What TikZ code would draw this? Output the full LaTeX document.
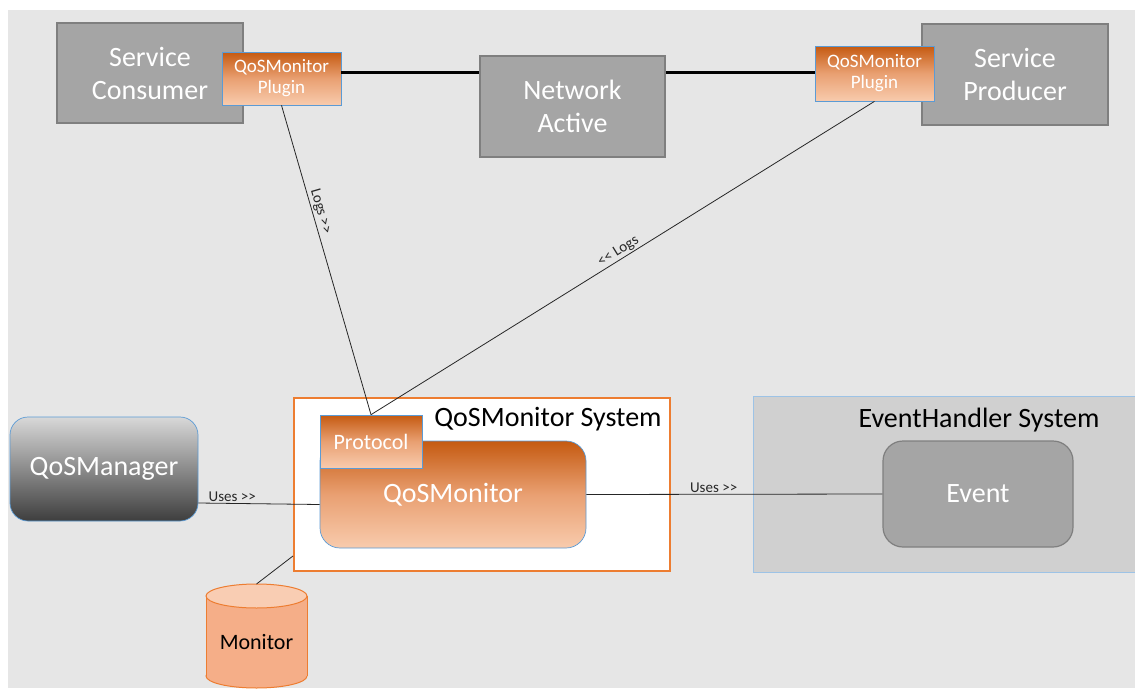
\documentclass[tikz,border=0pt]{standalone}
\usepackage{fontspec}
% plain ">>" and "<<" must stay as two characters, not guillemets
\setmainfont{Carlito}[Ligatures=TeXOff]
\usetikzlibrary{calc}

\definecolor{pagebg}{HTML}{E6E6E6}
\definecolor{boxgray}{HTML}{A5A5A5}
\definecolor{boxedge}{HTML}{7F7F7F}
\definecolor{orDark}{HTML}{C55A11}
\definecolor{orLight}{HTML}{F8CBAD}
\definecolor{orMid}{HTML}{E9A072}
\definecolor{orEdge}{HTML}{ED7D31}
\definecolor{edgeblue}{HTML}{5B9BD5}
\definecolor{paleblue}{HTML}{9DC3E6}
\definecolor{sysgray}{HTML}{D0D0D0}
\definecolor{cylbody}{HTML}{F5AE88}
\definecolor{cyltop}{HTML}{F9CDB3}
\definecolor{mgrTop}{HTML}{D8D8D8}
\definecolor{mgrBot}{HTML}{3E3E3E}

\begin{document}
\begin{tikzpicture}[x=1pt,y=-1pt,
  bigtext/.style={font=\fontsize{28}{33}\selectfont},
  graybox/.style={draw=boxedge, line width=1.8pt, fill=boxgray, text=white,
    bigtext, align=center, inner sep=0pt},
  pluginbox/.style={draw=edgeblue, line width=0.7pt, top color=orDark,
    bottom color=orLight, middle color=orMid, text=white,
    font=\fontsize{19}{21}\selectfont, align=center, inner sep=0pt},
  orangebox/.style={draw=edgeblue, line width=0.7pt, top color=orDark,
    bottom color=orLight, middle color=orMid, text=white, inner sep=0pt},
  netlink/.style={line width=3pt, black},
  conn/.style={line width=0.8pt, black!85},
  lbl/.style={font=\fontsize{15}{17}\selectfont, text=black!85, inner sep=1.5pt},
]
\clip (0,0) rectangle (1135,688);
\fill[white] (0,0) rectangle (1135,688);
\fill[pagebg] (8,10) rectangle (1135,688);

% --- top row: consumer, network, producer with their plugins
\node[graybox, minimum width=186, minimum height=100] (cons) at (150,73) {Service\\Consumer};
\node[pluginbox, minimum width=119, minimum height=53] (plugL) at (281.5,78.5) {QoSMonitor\\Plugin};
\node[graybox, minimum width=185, minimum height=101] (net) at (572.5,106.5) {Network\\Active};
\node[graybox, minimum width=186, minimum height=101] (prod) at (1015,74.5) {Service\\Producer};
\node[pluginbox, minimum width=119, minimum height=55] (plugR) at (874.5,73.5) {QoSMonitor\\Plugin};

\draw[netlink] (plugL.east |- 0,72) -- (net.west |- 0,72);
\draw[netlink] (net.east |- 0,72) -- (plugR.west |- 0,72);

% --- QoSMonitor system
\node[draw=orEdge, line width=1.8pt, fill=white, minimum width=376, minimum height=173,
  inner sep=0pt] (sys) at (482,484.5) {};
\node[bigtext, text=black] (systitle) at (548,419) {QoSMonitor System};
\node[orangebox, rounded corners=20pt, minimum width=266, minimum height=107,
  bigtext] (qmon) at (453,494.5) {QoSMonitor};
\node[orangebox, minimum width=102, minimum height=53,
  font=\fontsize{22}{24}\selectfont] (proto) at (371,441.5) {Protocol};

% --- QoSManager
\node[draw=edgeblue, line width=0.7pt, rounded corners=18pt, top color=mgrTop,
  bottom color=mgrBot, text=white, bigtext, inner sep=0pt,
  minimum width=188, minimum height=104] (mgr) at (104,469) {QoSManager};

% --- EventHandler system
\node[draw=paleblue, line width=0.8pt, fill=sysgray, minimum width=392,
  minimum height=176, inner sep=0pt] (evsys) at (949,484) {};
\node[bigtext, text=black] (evtitle) at (979,420) {EventHandler System};
\node[graybox, line width=1.2pt, rounded corners=20pt, minimum width=190,
  minimum height=106] (event) at (978,494) {Event};

% --- Monitor store
\coordinate (montop) at (256.5,584);
\filldraw[fill=cylbody, draw=orEdge, line width=1pt] (256.5,676) ellipse[x radius=50.5, y radius=12];
\fill[cylbody] (206,596) rectangle (307,676);
\draw[orEdge, line width=1pt] (206,596) -- (206,676) (307,596) -- (307,676);
\filldraw[fill=cyltop, draw=orEdge, line width=1pt] (256.5,596) ellipse[x radius=50.5, y radius=12];
\node[font=\fontsize{22}{24}\selectfont, text=black] (mon) at (256.5,642) {Monitor};

% --- connectors
\draw[conn] (plugL.south) -- node[sloped, above, pos=0.35, lbl] {Logs >>} (proto.north);
\draw[conn] (proto.north) -- node[sloped, above, pos=0.5, lbl] {<< Logs} (plugR.south);
\draw[conn] ($(mgr.east)+(0,34)$) -- node[above, pos=0.28, lbl] {Uses >>} ($(qmon.west)+(0,10)$);
\draw[conn] (qmon.east) -- node[above, pos=0.43, lbl] {Uses >>} (event.west);
\draw[conn] (montop) -- ($(sys.south west)+(0,-16)$);
\end{tikzpicture}
\end{document}
